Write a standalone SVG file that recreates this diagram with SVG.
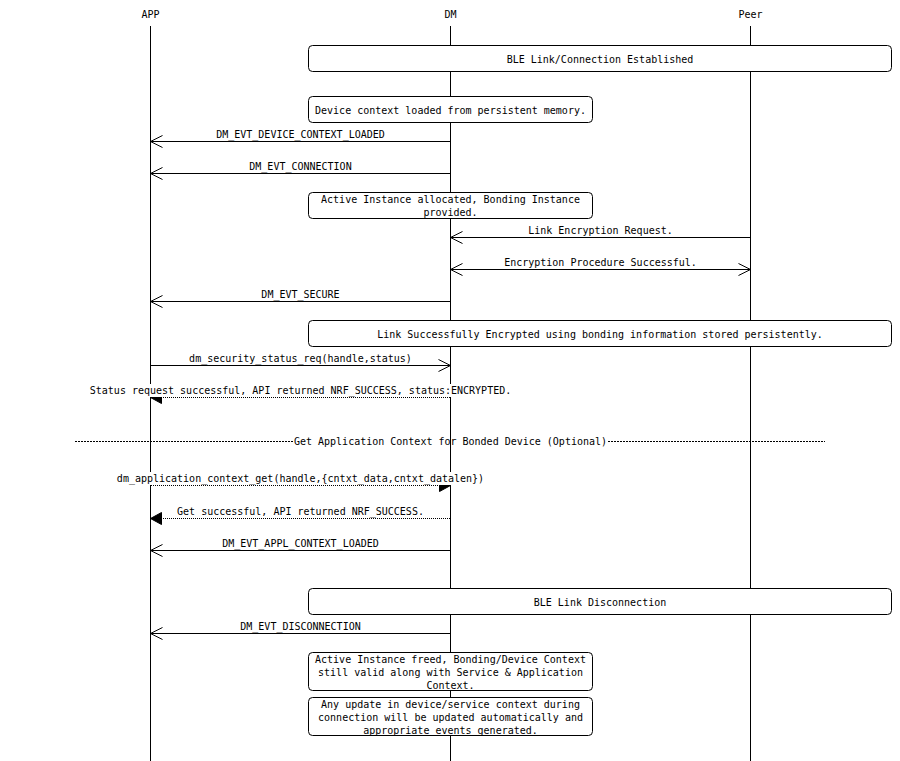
<svg xmlns="http://www.w3.org/2000/svg" width="900" height="761" viewBox="0 0 900 761">
<style>
text{font-family:"DejaVu Sans Mono","Liberation Mono",monospace;font-size:10px;fill:#000;text-anchor:middle}
.life{stroke:#000;stroke-width:1;fill:none}
.box{fill:#fff;stroke:#000;stroke-width:1}
.msg{stroke:#000;stroke-width:1;fill:none}
.dot{stroke:#000;stroke-width:1;fill:none;stroke-dasharray:1,1}
.div{stroke:#000;stroke-width:1;fill:none;stroke-dasharray:2,1}
.bg{fill:#fff;stroke:none}
</style>
<defs>
<marker id="open" markerUnits="userSpaceOnUse" markerWidth="14" markerHeight="14" refX="13" refY="7" orient="auto-start-reverse" overflow="visible">
<path d="M1,1 L13,7 L1,13" fill="none" stroke="#000" stroke-width="1"/>
</marker>
<marker id="solid" markerUnits="userSpaceOnUse" markerWidth="14" markerHeight="14" refX="12" refY="7" orient="auto" overflow="visible">
<path d="M1,1 L12,7 L1,13 Z" fill="#000" stroke="#000" stroke-width="1" stroke-dasharray="none"/>
</marker>
</defs>
<rect width="900" height="761" fill="#fff"/>

<g id="lifelines">
<g id="APP"><text x="150.5" y="18">APP</text><line class="life" x1="150.5" y1="26" x2="150.5" y2="761"/></g>
<g id="DM"><text x="450.5" y="18">DM</text><line class="life" x1="450.5" y1="26" x2="450.5" y2="761"/></g>
<g id="Peer"><text x="750.5" y="18">Peer</text><line class="life" x1="750.5" y1="26" x2="750.5" y2="761"/></g>
</g>

<g id="connectors">
<line class="msg" x1="450.5" y1="141.5" x2="150.5" y2="141.5" marker-end="url(#open)"/>
<text x="300.5" y="137.5">DM_EVT_DEVICE_CONTEXT_LOADED</text>
<line class="msg" x1="450.5" y1="173.5" x2="150.5" y2="173.5" marker-end="url(#open)"/>
<text x="300.5" y="169.5">DM_EVT_CONNECTION</text>
<line class="msg" x1="750.5" y1="237.5" x2="450.5" y2="237.5" marker-end="url(#open)"/>
<text x="600.5" y="233.5">Link Encryption Request.</text>
<line class="msg" x1="450.5" y1="269.5" x2="750.5" y2="269.5" marker-start="url(#open)" marker-end="url(#open)"/>
<text x="600.5" y="265.5">Encryption Procedure Successful.</text>
<line class="msg" x1="450.5" y1="301.5" x2="150.5" y2="301.5" marker-end="url(#open)"/>
<text x="300.5" y="297.5">DM_EVT_SECURE</text>
<line class="msg" x1="150.5" y1="365.5" x2="450.5" y2="365.5" marker-end="url(#open)"/>
<text x="300.5" y="361.5">dm_security_status_req(handle,status)</text>
<line class="dot" x1="450" y1="397.5" x2="150.5" y2="397.5" marker-end="url(#solid)"/>
<rect class="bg" x="90" y="384" width="421" height="13"/>
<text x="300.5" y="393.5">Status request successful, API returned NRF_SUCCESS, status:ENCRYPTED.</text>
<line class="div" x1="75" y1="441.5" x2="293" y2="441.5"/>
<line class="div" x1="608" y1="441.5" x2="825" y2="441.5"/>
<text x="450.5" y="445">Get Application Context for Bonded Device (Optional)</text>
<line class="dot" x1="151" y1="485.5" x2="450.5" y2="485.5" marker-end="url(#solid)"/>
<rect class="bg" x="114" y="472" width="373" height="13"/>
<text x="300.5" y="481.5">dm_application_context_get(handle,{cntxt_data,cntxt_datalen})</text>
<line class="dot" x1="450" y1="518.5" x2="150.5" y2="518.5" marker-end="url(#solid)"/>
<text x="300.5" y="514.5">Get successful, API returned NRF_SUCCESS.</text>
<line class="msg" x1="450.5" y1="550.5" x2="150.5" y2="550.5" marker-end="url(#open)"/>
<text x="300.5" y="546.5">DM_EVT_APPL_CONTEXT_LOADED</text>
<line class="msg" x1="450.5" y1="633.5" x2="150.5" y2="633.5" marker-end="url(#open)"/>
<text x="300.5" y="629.5">DM_EVT_DISCONNECTION</text>
</g>

<g id="box-established"><rect class="box" x="308.5" y="45.5" width="583" height="26" rx="4"/><text x="600" y="62.5">BLE Link/Connection Established</text></g>
<g id="box-context-loaded"><rect class="box" x="308.5" y="96.5" width="284" height="26" rx="4"/><text x="450.5" y="113.5">Device context loaded from persistent memory.</text></g>
<g id="box-instance-allocated"><rect class="box" x="308.5" y="192.5" width="284" height="26" rx="4"/><text x="450.5" y="203">Active Instance allocated, Bonding Instance</text><text x="450.5" y="216">provided.</text></g>
<g id="box-encrypted"><rect class="box" x="308.5" y="320.5" width="583" height="26" rx="4"/><text x="600" y="337.5">Link Successfully Encrypted using bonding information stored persistently.</text></g>
<g id="box-disconnection"><rect class="box" x="308.5" y="588.5" width="583" height="26" rx="4"/><text x="600" y="605.5">BLE Link Disconnection</text></g>
<g id="box-instance-freed"><rect class="box" x="308.5" y="652.5" width="284" height="38" rx="4"/><text x="450.5" y="662.5">Active Instance freed, Bonding/Device Context</text><text x="450.5" y="675.5">still valid along with Service &amp; Application</text><text x="450.5" y="688.5">Context.</text></g>
<g id="box-any-update"><rect class="box" x="308.5" y="697.5" width="284" height="38" rx="4"/><text x="450.5" y="708">Any update in device/service context during</text><text x="450.5" y="721">connection will be updated automatically and</text><text x="450.5" y="734">appropriate events generated.</text></g>
</svg>
